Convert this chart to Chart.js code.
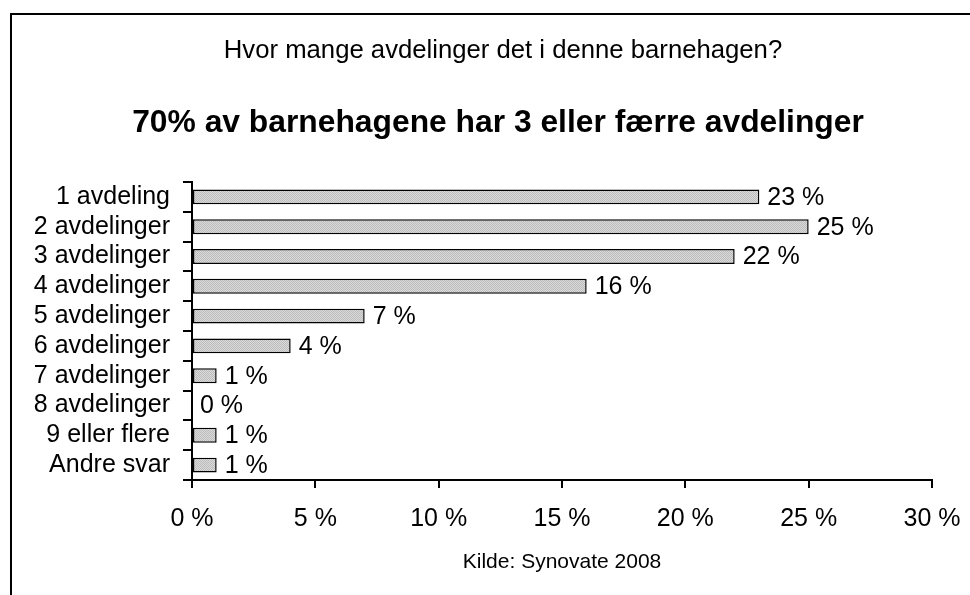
<!DOCTYPE html>
<html lang="no">
<head>
  <meta charset="UTF-8">
  <title>Hvor mange avdelinger det i denne barnehagen?</title>
  <script src="https://cdn.jsdelivr.net/npm/chart.js@4.4.0/dist/chart.umd.min.js"></script>
  <style>
    body { margin: 0; background: #fff; }
    canvas { display: block; }
  </style>
</head>
<body>
  <canvas id="chart" width="970" height="595"></canvas>

  <script>
    // data
    const categories = ['1 avdeling', '2 avdelinger', '3 avdelinger', '4 avdelinger', '5 avdelinger',
                        '6 avdelinger', '7 avdelinger', '8 avdelinger', '9 eller flere', 'Andre svar'];
    const shares = [23, 25, 22, 16, 7, 4, 1, 0, 1, 1];
    const xTicks = [0, 5, 10, 15, 20, 25, 30];

    const questionText = 'Hvor mange avdelinger det i denne barnehagen?';
    const headlineText = '70% av barnehagene har 3 eller færre avdelinger';
    const sourceText = 'Kilde: Synovate 2008';

    const FONT = '"Liberation Sans", Arial, sans-serif';

    // dotted grey fill like the old office bars
    function makePattern() {
      const c = document.createElement('canvas');
      c.width = 2; c.height = 2;
      const g = c.getContext('2d');
      g.fillStyle = '#dadada'; g.fillRect(0, 0, 2, 2);
      g.fillStyle = '#bcbcbc'; g.fillRect(0, 0, 1, 1); g.fillRect(1, 1, 1, 1);
      return g.createPattern(c, 'repeat');
    }

    // frame, titles, source line
    const decorPlugin = {
      id: 'decor',
      beforeDraw(chart) {
        const ctx = chart.ctx;
        ctx.save();
        ctx.strokeStyle = '#000';
        ctx.lineWidth = 2;
        ctx.beginPath();
        ctx.moveTo(11, 600);
        ctx.lineTo(11, 14);
        ctx.lineTo(975, 14);
        ctx.stroke();
        ctx.restore();
      },
      afterDraw(chart) {
        const ctx = chart.ctx;
        const area = chart.chartArea;
        ctx.save();
        ctx.fillStyle = '#000';
        ctx.textAlign = 'center';
        ctx.textBaseline = 'alphabetic';
        ctx.font = '25.7px ' + FONT;
        ctx.fillText(questionText, 503, 58);
        ctx.font = 'bold 31.8px ' + FONT;
        ctx.fillText(headlineText, 498, 132);
        ctx.font = '21px ' + FONT;
        ctx.fillText(sourceText, (area.left + area.right) / 2, 568);
        ctx.restore();
      }
    };

    // value labels right of each bar
    const valueLabels = {
      id: 'valueLabels',
      afterDatasetsDraw(chart) {
        const ctx = chart.ctx;
        const meta = chart.getDatasetMeta(0);
        ctx.save();
        ctx.fillStyle = '#000';
        ctx.font = '25px ' + FONT;
        ctx.textAlign = 'left';
        ctx.textBaseline = 'middle';
        meta.data.forEach((bar, i) => {
          ctx.fillText(shares[i] + ' %', bar.x + 8, bar.y + 1);
        });
        ctx.restore();
      }
    };

    const elChart = document.getElementById('chart').getContext('2d');
    const myChart = new Chart(elChart, {
      type: 'bar',
      data: {
        labels: categories,
        datasets: [{
          data: shares,
          backgroundColor: makePattern(),
          borderColor: '#000',
          borderWidth: 1.5,
          borderSkipped: false,
          barPercentage: 0.5,
          categoryPercentage: 1
        }]
      },
      options: {
        indexAxis: 'y',
        responsive: false,
        animation: false,
        layout: { padding: { top: 182, right: 38, left: 0, bottom: 0 } },
        plugins: {
          legend: { display: false },
          tooltip: { enabled: false },
          title: { display: false }
        },
        scales: {
          x: {
            min: 0,
            max: 30,
            afterBuildTicks: axis => { axis.ticks = xTicks.map(v => ({ value: v })); },
            afterFit: axis => {
              axis.height = 115;
              axis.paddingLeft = 0;
              axis.paddingRight = 0;
            },
            border: { color: '#000', width: 2 },
            grid: { drawOnChartArea: false, drawTicks: true, tickLength: 8, color: '#000', lineWidth: 2 },
            ticks: {
              color: '#000',
              font: { family: FONT, size: 25 },
              padding: 16,
              maxRotation: 0,
              callback: value => value + ' %'
            }
          },
          y: {
            afterFit: axis => { axis.width = 192; },
            border: { color: '#000', width: 2 },
            grid: { offset: true, drawOnChartArea: false, drawTicks: true, tickLength: 9, color: '#000', lineWidth: 2 },
            ticks: {
              color: '#000',
              font: { family: FONT, size: 25 },
              padding: 13,
              autoSkip: false
            }
          }
        }
      },
      plugins: [decorPlugin, valueLabels]
    });
  </script>
</body>
</html>
